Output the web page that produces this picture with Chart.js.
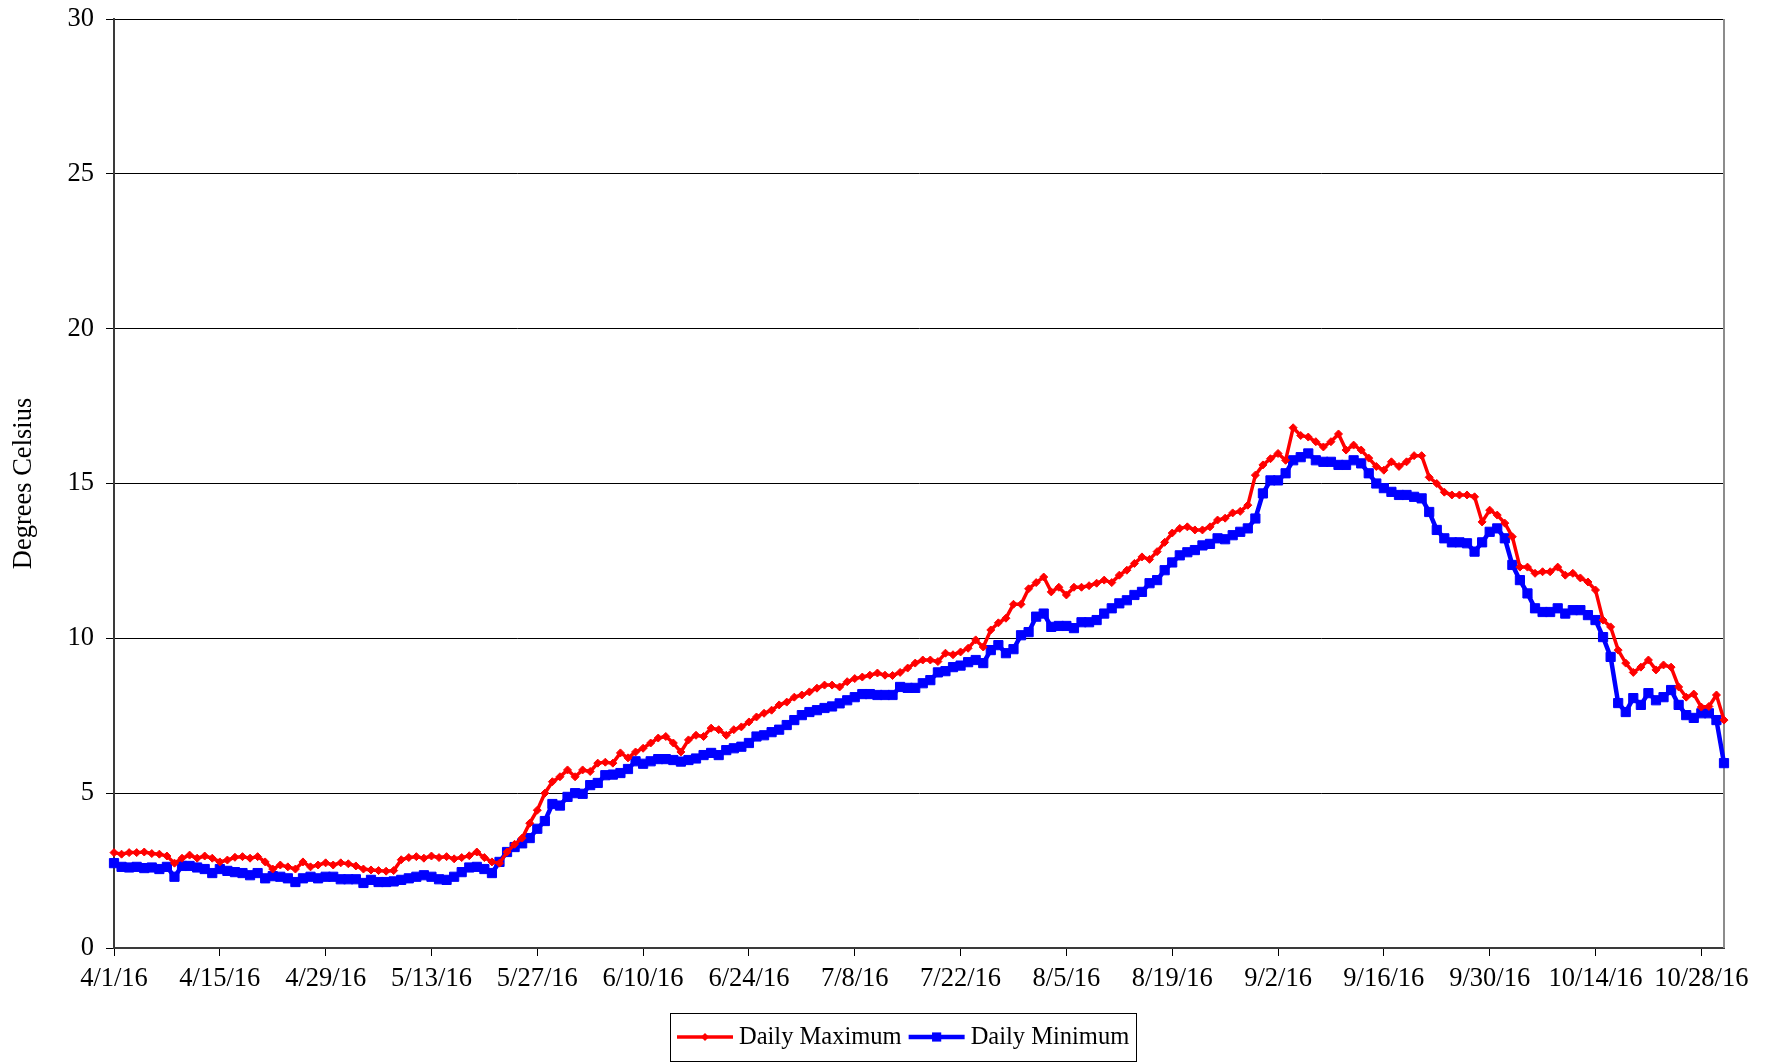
<!DOCTYPE html>
<html>
<head>
<meta charset="utf-8">
<script src="https://cdn.jsdelivr.net/npm/chart.js@4"></script>
<style>
  html, body { margin: 0; padding: 0; background: #fff; }
</style>
</head>
<body>
<canvas id="chart" width="1771" height="1062"></canvas>
<script>
// daily readings, 4/1/16 .. 10/31/16
const tickLabels = ["4/1/16", "4/15/16", "4/29/16", "5/13/16", "5/27/16", "6/10/16", "6/24/16",
  "7/8/16", "7/22/16", "8/5/16", "8/19/16", "9/2/16", "9/16/16", "9/30/16", "10/14/16", "10/28/16"];
const tickEvery = 14;

const dailyMax = [
  3.08, 3.03, 3.08, 3.08, 3.1, 3.05, 3.03, 2.97, 2.74, 2.9, 3.0, 2.9, 2.97, 2.9, 2.78, 2.84, 2.93, 2.95, 2.9, 2.95,
  2.78, 2.55, 2.68, 2.62, 2.55, 2.78, 2.62, 2.68, 2.75, 2.68, 2.75, 2.72, 2.65, 2.55, 2.52,
  2.5, 2.48, 2.5, 2.85, 2.92, 2.95, 2.9, 2.97, 2.92, 2.95, 2.88, 2.92, 2.98, 3.1, 2.92, 2.78, 2.74, 3.1, 3.35,
  3.55, 4.03, 4.45, 5.0, 5.37, 5.53, 5.75, 5.53, 5.75, 5.7, 5.97, 6.0, 5.97, 6.3, 6.14, 6.33, 6.45, 6.62, 6.78, 6.83,
  6.62, 6.33, 6.72, 6.87, 6.83, 7.1, 7.05, 6.87, 7.05, 7.14, 7.3, 7.46, 7.58, 7.68, 7.85, 7.94, 8.1, 8.17, 8.27, 8.39,
  8.49, 8.49, 8.43, 8.6, 8.7, 8.75, 8.81, 8.88,
  8.81, 8.8, 8.9, 9.04, 9.2, 9.3, 9.3, 9.25, 9.52, 9.47, 9.56, 9.68, 9.95, 9.72, 10.27, 10.5, 10.65, 11.1, 11.1, 11.6,
  11.8, 11.98, 11.5, 11.65, 11.4, 11.65, 11.65, 11.7, 11.78, 11.88, 11.8, 12.04, 12.2, 12.42, 12.63, 12.55, 12.8, 13.1,
  13.4, 13.55, 13.6, 13.5, 13.5, 13.6, 13.82, 13.88, 14.05, 14.1, 14.3, 15.27,
  15.6, 15.8, 15.97, 15.75, 16.8, 16.55, 16.5, 16.35, 16.18, 16.35, 16.6, 16.08, 16.24, 16.08, 15.82, 15.55, 15.43,
  15.7, 15.55, 15.7, 15.9, 15.9, 15.2, 15.0, 14.72, 14.63, 14.63, 14.63, 14.57, 13.76, 14.14, 13.98, 13.72, 13.28,
  12.3, 12.3, 12.1, 12.15, 12.15, 12.3, 12.04, 12.1, 11.95, 11.82, 11.56, 10.59, 10.37, 9.62, 9.2, 8.9, 9.07, 9.3,
  8.98, 9.14, 9.07, 8.43, 8.1, 8.2, 7.78, 7.8, 8.17, 7.36
];

const dailyMin = [
  2.74, 2.62, 2.6, 2.62, 2.58, 2.6, 2.55, 2.62, 2.3, 2.65, 2.65, 2.6, 2.55, 2.42, 2.55, 2.49, 2.45, 2.42, 2.35, 2.42,
  2.25, 2.32, 2.3, 2.25, 2.13, 2.25, 2.3, 2.25, 2.3, 2.3, 2.22, 2.22, 2.22, 2.1, 2.2,
  2.13, 2.13, 2.15, 2.2, 2.25, 2.3, 2.35, 2.3, 2.22, 2.2, 2.3, 2.45, 2.6, 2.62, 2.55, 2.42, 2.78, 3.1, 3.26,
  3.38, 3.55, 3.85, 4.1, 4.65, 4.6, 4.88, 5.0, 4.98, 5.26, 5.33, 5.58, 5.6, 5.65, 5.78, 6.03, 5.95, 6.03, 6.1, 6.1,
  6.07, 6.02, 6.07, 6.12, 6.23, 6.3, 6.23, 6.39, 6.45, 6.5, 6.62, 6.83, 6.87, 6.97, 7.05, 7.2, 7.36, 7.52, 7.62, 7.68,
  7.75, 7.8, 7.9, 8.0, 8.1, 8.2, 8.2, 8.17,
  8.17, 8.17, 8.43, 8.4, 8.4, 8.55, 8.65, 8.9, 8.94, 9.07, 9.12, 9.23, 9.3, 9.2, 9.62, 9.78, 9.52, 9.65, 10.1, 10.2,
  10.7, 10.8, 10.37, 10.4, 10.4, 10.33, 10.52, 10.52, 10.59, 10.8, 10.97, 11.13, 11.23, 11.4, 11.5, 11.78, 11.88, 12.2,
  12.45, 12.68, 12.78, 12.85, 13.0, 13.05, 13.23, 13.2, 13.33, 13.44, 13.55, 13.87,
  14.68, 15.1, 15.1, 15.33, 15.75, 15.85, 15.97, 15.75, 15.7, 15.7, 15.6, 15.6, 15.75, 15.65, 15.33, 15.0, 14.85,
  14.73, 14.63, 14.63, 14.57, 14.52, 14.08, 13.5, 13.23, 13.1, 13.1, 13.07, 12.8, 13.1, 13.44, 13.55, 13.23, 12.37,
  11.88, 11.45, 10.97, 10.85, 10.85, 10.97, 10.8, 10.91, 10.91, 10.75, 10.59, 10.04, 9.4, 7.91, 7.62, 8.07, 7.85, 8.23,
  8.0, 8.1, 8.33, 7.85, 7.52, 7.43, 7.58, 7.58, 7.36, 5.97
];

const labels = [];
for (let i = 0; i < dailyMax.length; i++) {
  const d = new Date(2016, 3, 1 + i);
  labels.push((d.getMonth() + 1) + "/" + d.getDate() + "/16");
}

const serif = "'Liberation Serif', 'Times New Roman', serif";

// right edge of the plot area is a grey frame line
const plotFrame = {
  id: "plotFrame",
  beforeDatasetsDraw(chart) {
    const { ctx, chartArea } = chart;
    ctx.save();
    ctx.strokeStyle = "#8c8c8c";
    ctx.lineWidth = 2;
    ctx.beginPath();
    ctx.moveTo(chartArea.right, chartArea.top);
    ctx.lineTo(chartArea.right, chartArea.bottom);
    ctx.stroke();
    ctx.restore();
  }
};

// boxed legend below the axis, line + marker like the spreadsheet one
const boxLegend = {
  id: "boxLegend",
  afterDraw(chart) {
    const ctx = chart.ctx;
    const sets = chart.data.datasets;
    const lineLen = 56, gap = 6, itemGap = 7, padX = 7;
    ctx.save();
    ctx.font = "24.5px " + serif;
    let w = padX * 2;
    sets.forEach((ds, i) => {
      w += lineLen + gap + ctx.measureText(ds.label).width + (i ? itemGap : 0);
    });
    const top = 1013, h = 48, cy = top + h / 2;
    let x = Math.round(903 - w / 2);
    ctx.strokeStyle = "#000";
    ctx.lineWidth = 1;
    ctx.strokeRect(x + 0.5, top + 0.5, Math.round(w), h);
    x += padX;
    sets.forEach((ds, i) => {
      if (i) x += itemGap;
      ctx.strokeStyle = ds.borderColor;
      ctx.fillStyle = ds.borderColor;
      ctx.lineWidth = ds.borderWidth;
      ctx.beginPath();
      ctx.moveTo(x, cy);
      ctx.lineTo(x + lineLen, cy);
      ctx.stroke();
      const mx = x + lineLen / 2;
      ctx.beginPath();
      if (ds.pointStyle === "rectRot") {
        const r = ds.pointRadius;
        ctx.moveTo(mx, cy - r); ctx.lineTo(mx + r, cy); ctx.lineTo(mx, cy + r); ctx.lineTo(mx - r, cy);
      } else {
        const s = ds.pointRadius * Math.SQRT1_2;
        ctx.rect(mx - s, cy - s, 2 * s, 2 * s);
      }
      ctx.closePath();
      ctx.fill();
      x += lineLen + gap;
      ctx.fillStyle = "#000";
      ctx.textBaseline = "middle";
      ctx.textAlign = "left";
      ctx.fillText(ds.label, x, cy + 1);
      x += ctx.measureText(ds.label).width;
    });
    ctx.restore();
  }
};

new Chart(document.getElementById("chart"), {
  type: "line",
  data: {
    labels: labels,
    datasets: [
      {
        label: "Daily Maximum",
        data: dailyMax,
        borderColor: "#ff0000",
        backgroundColor: "#ff0000",
        borderWidth: 3.5,
        pointStyle: "rectRot",
        pointRadius: 4,
        pointBorderWidth: 1,
        tension: 0,
      },
      {
        label: "Daily Minimum",
        data: dailyMin,
        borderColor: "#0000ff",
        backgroundColor: "#0000ff",
        borderWidth: 4.5,
        pointStyle: "rect",
        pointRadius: 6.5,
        pointBorderWidth: 1,
        tension: 0,
      },
    ],
  },
  options: {
    responsive: false,
    animation: false,
    layout: { padding: { left: 0, right: 47, top: 19, bottom: 62 } },
    plugins: {
      legend: { display: false },
      tooltip: { enabled: false },
    },
    scales: {
      x: {
        offset: false,
        afterFit: (scale) => { scale.height = 52; },
        grid: { drawOnChartArea: false, drawTicks: true, tickLength: 8, color: "#000", lineWidth: 1 },
        border: { display: true, color: "#3a3a3a", width: 2 },
        ticks: {
          autoSkip: false,
          maxRotation: 0,
          padding: 7,
          color: "#000",
          font: { family: serif, size: 26.5 },
          callback: (value, index) => (index % tickEvery === 0 ? tickLabels[index / tickEvery] : null),
        },
      },
      y: {
        min: 0,
        max: 30,
        afterFit: (scale) => {
          scale.width = 114;
          scale.paddingTop = 0;
          scale.paddingBottom = 0;
        },
        grid: { color: "#000", lineWidth: 1, tickLength: 8 },
        border: { display: true, color: "#3a3a3a", width: 2 },
        ticks: {
          stepSize: 5,
          padding: 12,
          color: "#000",
          font: { family: serif, size: 26.5 },
        },
        title: {
          display: true,
          text: "Degrees Celsius",
          color: "#000",
          font: { family: serif, size: 26.5 },
          padding: { top: 8, bottom: 0 },
        },
      },
    },
  },
  plugins: [plotFrame, boxLegend],
});
</script>
</body>
</html>
